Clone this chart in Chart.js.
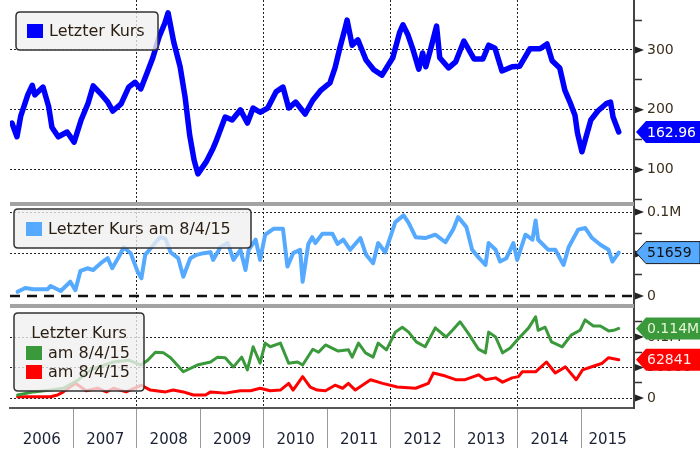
<!DOCTYPE html>
<html>
<head>
<meta charset="utf-8">
<title>Letzter Kurs</title>
<script src="https://cdn.jsdelivr.net/npm/chart.js@4.4.1/dist/chart.umd.min.js"></script>
<style>
  html, body { margin: 0; padding: 0; background: #fff; }
  #chart { display: block; }
</style>
</head>
<body>
<canvas id="chart" width="700" height="450"></canvas>
<script>
// Jahresbeschriftung der X-Achse
const jahre = ['2006', '2007', '2008', '2009', '2010', '2011', '2012', '2013', '2014', '2015'];

// Oberes Feld: Letzter Kurs
const kursJahre = [2006.03, 2006.11, 2006.17, 2006.28, 2006.35, 2006.39, 2006.52, 2006.61, 2006.66, 2006.76,
  2006.90, 2007.01, 2007.12, 2007.23, 2007.31, 2007.42, 2007.54, 2007.62, 2007.75, 2007.87,
  2007.97, 2008.06, 2008.16, 2008.25, 2008.35, 2008.44, 2008.49, 2008.58, 2008.68, 2008.76,
  2008.83, 2008.90, 2008.96, 2009.09, 2009.20, 2009.24, 2009.39, 2009.50, 2009.63, 2009.74,
  2009.83, 2009.94, 2010.06, 2010.19, 2010.30, 2010.39, 2010.50, 2010.65, 2010.77, 2010.90,
  2011.04, 2011.12, 2011.20, 2011.28, 2011.31, 2011.39, 2011.48, 2011.61, 2011.73, 2011.86,
  2012.03, 2012.14, 2012.19, 2012.27, 2012.35, 2012.44, 2012.50, 2012.55, 2012.63, 2012.72,
  2012.77, 2012.91, 2013.02, 2013.15, 2013.31, 2013.45, 2013.54, 2013.64, 2013.75, 2013.91,
  2014.03, 2014.19, 2014.35, 2014.46, 2014.54, 2014.66, 2014.74, 2014.82, 2014.90, 2014.94,
  2015.01, 2015.07, 2015.15, 2015.26, 2015.40, 2015.46, 2015.50, 2015.59];
const kursWerte = [178, 155, 190, 225, 241, 225, 238, 205, 171, 155,
  163, 146, 183, 211, 240, 228, 213, 198, 210, 238,
  246, 235, 262, 287, 322, 345, 362, 313, 272, 220,
  158, 116, 93, 113, 136, 146, 188, 183, 200, 178,
  203, 196, 203, 230, 238, 203, 213, 193, 216, 233,
  245, 270, 305, 337, 350, 308, 317, 283, 267, 258,
  287, 330, 342, 325, 300, 268, 295, 272, 303, 340,
  287, 270, 280, 315, 285, 285, 308, 303, 265, 272,
  273, 302, 302, 310, 282, 270, 233, 213, 191, 161,
  130, 153, 183, 198, 211, 213, 188, 162.96];

// Mittleres Feld: Letzter Kurs am 8/4/15
const mitteJahre = [2006.12, 2006.24, 2006.37, 2006.59, 2006.64, 2006.80, 2006.95, 2007.03, 2007.11, 2007.22,
  2007.31, 2007.43, 2007.54, 2007.61, 2007.71, 2007.79, 2007.90, 2008.01, 2008.07, 2008.13,
  2008.23, 2008.32, 2008.37, 2008.45, 2008.53, 2008.65, 2008.73, 2008.84, 2008.94, 2009.05,
  2009.16, 2009.20, 2009.27, 2009.31, 2009.43, 2009.52, 2009.63, 2009.71, 2009.76, 2009.87,
  2009.94, 2010.02, 2010.15, 2010.30, 2010.37, 2010.46, 2010.57, 2010.61, 2010.70, 2010.76,
  2010.81, 2010.92, 2011.08, 2011.16, 2011.25, 2011.36, 2011.52, 2011.61, 2011.72, 2011.80,
  2011.91, 2012.07, 2012.20, 2012.28, 2012.39, 2012.54, 2012.70, 2012.86, 2012.98, 2013.06,
  2013.19, 2013.28, 2013.38, 2013.49, 2013.54, 2013.65, 2013.72, 2013.82, 2013.93, 2013.99,
  2014.12, 2014.23, 2014.28, 2014.32, 2014.48, 2014.59, 2014.72, 2014.80, 2014.95, 2015.06,
  2015.17, 2015.30, 2015.43, 2015.49, 2015.59];
const mitteWerte = [5000, 9500, 8000, 8000, 12000, 6000, 17000, 7000, 30000, 33000,
  31000, 39000, 45000, 33000, 46000, 58000, 51000, 29000, 21000, 49000,
  58000, 66000, 70000, 68000, 52000, 45000, 23000, 45000, 49000, 51000,
  52000, 43000, 52000, 58000, 63000, 43000, 55000, 31000, 55000, 67000,
  43000, 73000, 80000, 80000, 35000, 51000, 55000, 17000, 62000, 70000,
  63000, 74000, 74000, 62000, 67000, 55000, 69000, 49000, 39000, 63000,
  52000, 88000, 96000, 87000, 70000, 69000, 73000, 64000, 79000, 94000,
  82000, 55000, 46000, 37000, 63000, 55000, 41000, 45000, 63000, 43000,
  73000, 67000, 90000, 67000, 55000, 55000, 37000, 58000, 79000, 81000,
  69000, 61000, 55000, 41000, 51659];

// Unteres Feld: zwei Reihen am 8/4/15 (grün und rot)
const gruenJahre = [2006.12, 2006.37, 2006.64, 2006.84, 2007.08, 2007.27, 2007.43, 2007.63, 2007.87, 2008.06,
  2008.17, 2008.29, 2008.42, 2008.53, 2008.73, 2008.95, 2009.16, 2009.27, 2009.39, 2009.52,
  2009.65, 2009.74, 2009.83, 2009.94, 2010.02, 2010.10, 2010.26, 2010.39, 2010.53, 2010.61,
  2010.77, 2010.86, 2010.97, 2011.17, 2011.33, 2011.39, 2011.49, 2011.60, 2011.72, 2011.80,
  2011.93, 2012.07, 2012.18, 2012.28, 2012.40, 2012.54, 2012.70, 2012.87, 2012.97, 2013.09,
  2013.22, 2013.38, 2013.49, 2013.54, 2013.65, 2013.76, 2013.88, 2013.99, 2014.17, 2014.28,
  2014.32, 2014.43, 2014.53, 2014.70, 2014.84, 2014.98, 2015.06, 2015.19, 2015.30, 2015.43,
  2015.51, 2015.59];
const gruenWerte = [5000, 10000, 13000, 16000, 30000, 46000, 52000, 59000, 62000, 54000,
  62000, 75000, 74000, 66000, 43000, 54000, 59000, 67000, 66000, 51000,
  67000, 46000, 84000, 57000, 90000, 84000, 90000, 57000, 59000, 54000,
  80000, 75000, 87000, 77000, 79000, 67000, 90000, 74000, 67000, 90000,
  79000, 108000, 116000, 108000, 92000, 84000, 115000, 100000, 111000, 125000,
  106000, 80000, 74000, 108000, 100000, 74000, 82000, 95000, 115000, 133000,
  111000, 116000, 92000, 84000, 103000, 111000, 128000, 118000, 118000, 110000,
  111000, 114000];

const rotJahre = [2006.12, 2006.64, 2006.75, 2006.84, 2007.03, 2007.20, 2007.38, 2007.52, 2007.63, 2007.83,
  2008.07, 2008.21, 2008.45, 2008.57, 2008.73, 2008.89, 2009.08, 2009.16, 2009.39, 2009.63,
  2009.79, 2009.94, 2010.10, 2010.26, 2010.39, 2010.46, 2010.61, 2010.73, 2010.84, 2010.97,
  2011.12, 2011.24, 2011.33, 2011.44, 2011.68, 2011.87, 2012.10, 2012.39, 2012.59, 2012.67,
  2012.86, 2013.02, 2013.17, 2013.38, 2013.49, 2013.65, 2013.76, 2013.91, 2014.01, 2014.07,
  2014.28, 2014.45, 2014.59, 2014.75, 2014.92, 2015.02, 2015.19, 2015.33, 2015.43, 2015.59];
const rotWerte = [2000, 2000, 5000, 10000, 24000, 12000, 16000, 10000, 16000, 10000,
  21000, 13000, 10000, 13000, 10000, 5000, 5000, 10000, 8000, 12000,
  12000, 16000, 12000, 13000, 24000, 13000, 35000, 18000, 13000, 12000,
  21000, 16000, 24000, 13000, 30000, 24000, 18000, 16000, 24000, 41000,
  36000, 30000, 30000, 38000, 30000, 33000, 26000, 33000, 35000, 43000,
  43000, 59000, 41000, 51000, 30000, 46000, 52000, 57000, 66000, 62841];

// Achsenteilung der drei Felder
const kursTicks = [50, 100, 150, 200, 250, 300, 350];
const kursHaupt = [100, 200, 300];
const mitteTicks = [0, 25000, 50000, 75000, 100000];
const mitteHaupt = [0, 50000, 100000];
const untenTicks = [0, 25000, 50000, 75000, 100000, 125000];
const untenHaupt = [0, 50000, 100000];

const xMin = 2006;
const xMax = 2015.83;
const leer = 'rgba(0,0,0,0)';
const schrift = '"DejaVu Sans", Verdana, sans-serif';

function punkte(jahreListe, werte) {
  return jahreListe.map((j, i) => ({ x: j, y: werte[i] }));
}

function zahlText(v) {
  if (v === 0) return '0';
  if (v >= 100000) return (v / 1000000).toFixed(1).replace(/\.0$/, '') + 'M';
  return String(v);
}

// Rechte Achse eines Feldes
function yAchse(min, max, ticks, haupt, gewicht, gitterOhne) {
  return {
    type: 'linear',
    position: 'right',
    stack: 'felder',
    stackWeight: gewicht,
    min: min,
    max: max,
    afterBuildTicks: (a) => { a.ticks = ticks.map(v => ({ value: v })); },
    afterFit: (a) => {
      a.width = 66;
      a.paddingTop = 0;
      a.paddingBottom = 0;
    },
    border: { display: true, color: '#444', width: 2, dash: [2, 2] },
    grid: {
      color: (c) => {
        const v = c.tick ? c.tick.value : null;
        return haupt.includes(v) && v !== gitterOhne ? '#222' : leer;
      },
      lineWidth: 1,
      tickLength: 8,
      tickWidth: 1.5,
      tickColor: (c) => (c.tick && haupt.includes(c.tick.value)) ? leer : '#333',
      tickBorderDash: []
    },
    ticks: {
      autoSkip: false,
      padding: 5,
      color: '#3d2f1e',
      font: { family: schrift, size: 14 },
      callback: (v) => haupt.includes(v) ? zahlText(v) : ''
    }
  };
}

function rundBox(ctx, x, y, w, h, r) {
  ctx.beginPath();
  ctx.moveTo(x + r, y);
  ctx.lineTo(x + w - r, y);
  ctx.quadraticCurveTo(x + w, y, x + w, y + r);
  ctx.lineTo(x + w, y + h - r);
  ctx.quadraticCurveTo(x + w, y + h, x + w - r, y + h);
  ctx.lineTo(x + r, y + h);
  ctx.quadraticCurveTo(x, y + h, x, y + h - r);
  ctx.lineTo(x, y + r);
  ctx.quadraticCurveTo(x, y, x + r, y);
  ctx.closePath();
  ctx.fillStyle = 'rgba(240,240,240,0.78)';
  ctx.fill();
  ctx.lineWidth = 1.5;
  ctx.strokeStyle = '#333';
  ctx.stroke();
}

function eintrag(ctx, x, y, farbe, text) {
  ctx.fillStyle = farbe;
  ctx.fillRect(x, y - 7, 16, 14);
  ctx.fillStyle = '#2a1e12';
  ctx.fillText(text, x + 22, y + 1);
}

function fahne(ctx, y, text, fuellung, textFarbe, rand) {
  const r = ctx.canvas.width;
  ctx.beginPath();
  ctx.moveTo(636, y);
  ctx.lineTo(646, y - 11);
  ctx.lineTo(r, y - 11);
  ctx.lineTo(r, y + 11);
  ctx.lineTo(646, y + 11);
  ctx.closePath();
  ctx.fillStyle = fuellung;
  ctx.fill();
  if (rand) {
    ctx.lineWidth = 1;
    ctx.strokeStyle = rand;
    ctx.stroke();
  }
  ctx.fillStyle = textFarbe;
  ctx.font = '14px ' + schrift;
  ctx.textAlign = 'left';
  ctx.textBaseline = 'middle';
  ctx.fillText(text, 647, y + 1);
}

// Deko: Nulllinie, Trennbalken, Legenden, Wertfahnen
const dekoPlugin = {
  id: 'deko',
  beforeDatasetsDraw(chart) {
    const { ctx, chartArea, scales } = chart;
    const y0 = scales.yMitte.getPixelForValue(0);
    ctx.save();
    ctx.strokeStyle = '#111';
    ctx.lineWidth = 2.5;
    ctx.setLineDash([10, 7]);
    ctx.beginPath();
    ctx.moveTo(chartArea.left, y0);
    ctx.lineTo(chartArea.right, y0);
    ctx.stroke();
    ctx.restore();
  },
  afterDraw(chart) {
    const { ctx, chartArea, scales } = chart;
    ctx.save();

    // graue Trennbalken zwischen den Feldern
    ctx.fillStyle = '#a3a3a3';
    [scales.yKurs.bottom, scales.yMitte.bottom].forEach(y => {
      ctx.fillRect(chartArea.left, y - 2, chartArea.right - chartArea.left, 4);
    });

    // kleine Pfeile an den Hauptstrichen
    ctx.fillStyle = '#222';
    [[scales.yKurs, kursHaupt], [scales.yMitte, mitteHaupt], [scales.yUnten, untenHaupt]].forEach(([s, haupt]) => {
      haupt.forEach(v => {
        const y = s.getPixelForValue(v);
        ctx.beginPath();
        ctx.moveTo(chartArea.right + 1, y - 3.5);
        ctx.lineTo(chartArea.right + 10, y);
        ctx.lineTo(chartArea.right + 1, y + 3.5);
        ctx.closePath();
        ctx.fill();
      });
    });

    // Legenden
    ctx.font = '16px ' + schrift;
    ctx.textBaseline = 'middle';
    ctx.textAlign = 'left';
    rundBox(ctx, 16, 12, 142, 38, 4);
    eintrag(ctx, 27, 31, '#0000ff', 'Letzter Kurs');
    rundBox(ctx, 14, 209, 237, 39, 4);
    eintrag(ctx, 26, 229, '#55aaff', 'Letzter Kurs am 8/4/15');
    rundBox(ctx, 14, 313, 130, 78, 4);
    ctx.fillStyle = '#2a1e12';
    ctx.textAlign = 'center';
    ctx.fillText('Letzter Kurs', 79, 334);
    ctx.textAlign = 'left';
    eintrag(ctx, 26, 353, '#3a993a', 'am 8/4/15');
    eintrag(ctx, 26, 372, '#ff0000', 'am 8/4/15');

    // Wertfahnen am rechten Rand
    const kursLetzt = kursWerte[kursWerte.length - 1];
    const mitteLetzt = mitteWerte[mitteWerte.length - 1];
    const gruenLetzt = gruenWerte[gruenWerte.length - 1];
    const rotLetzt = rotWerte[rotWerte.length - 1];
    fahne(ctx, scales.yKurs.getPixelForValue(kursLetzt), kursLetzt.toFixed(2), '#0000ff', '#ffffff');
    fahne(ctx, scales.yMitte.getPixelForValue(mitteLetzt), String(mitteLetzt), '#55aaff', '#111111', '#1a1a1a');
    fahne(ctx, scales.yUnten.getPixelForValue(gruenLetzt), (gruenLetzt / 1000000).toFixed(3) + 'M', '#3a993a', '#e6f5d8');
    fahne(ctx, scales.yUnten.getPixelForValue(rotLetzt), String(rotLetzt), '#ff0000', '#ffeaea');

    ctx.restore();
  }
};

const ctx = document.getElementById('chart').getContext('2d');

const diagramm = new Chart(ctx, {
  type: 'line',
  data: {
    datasets: [
      { label: 'Letzter Kurs', data: punkte(kursJahre, kursWerte), yAxisID: 'yKurs',
        borderColor: '#0000ff', borderWidth: 5.5 },
      { label: 'Letzter Kurs am 8/4/15', data: punkte(mitteJahre, mitteWerte), yAxisID: 'yMitte',
        borderColor: '#55aaff', borderWidth: 4 },
      { label: 'am 8/4/15', data: punkte(gruenJahre, gruenWerte), yAxisID: 'yUnten',
        borderColor: '#3a993a', borderWidth: 3 },
      { label: 'am 8/4/15', data: punkte(rotJahre, rotWerte), yAxisID: 'yUnten',
        borderColor: '#ff0000', borderWidth: 3 }
    ]
  },
  options: {
    responsive: false,
    animation: false,
    layout: { padding: { left: 10, top: 0, right: 0, bottom: 0 } },
    elements: {
      point: { radius: 0 },
      line: { tension: 0, borderJoinStyle: 'round', borderCapStyle: 'round', fill: false }
    },
    plugins: { legend: { display: false }, tooltip: { enabled: false } },
    scales: {
      x: {
        type: 'linear',
        position: 'bottom',
        min: xMin,
        max: xMax,
        afterBuildTicks: (a) => {
          const t = [];
          jahre.forEach(j => {
            const start = Number(j);
            const ende = Math.min(start + 1, xMax);
            if (start > xMin) t.push({ value: start });
            t.push({ value: (start + ende) / 2 });
          });
          a.ticks = t;
        },
        afterFit: (a) => {
          a.height = 42;
          a.paddingLeft = 0;
          a.paddingRight = 0;
        },
        border: { display: true, color: '#555', width: 2, dash: [2, 2] },
        grid: {
          color: (c) => {
            const v = c.tick ? c.tick.value : null;
            return (Number.isInteger(v) && v % 2 === 0) ? '#222' : leer;
          },
          lineWidth: 1,
          tickLength: 40,
          tickWidth: 1,
          tickColor: (c) => (c.tick && Number.isInteger(c.tick.value)) ? '#9a9a9a' : leer,
          tickBorderDash: []
        },
        ticks: {
          autoSkip: false,
          maxRotation: 0,
          minRotation: 0,
          padding: -17,
          color: '#1c2235',
          font: { family: schrift, size: 15 },
          callback: (v) => Number.isInteger(v) ? '' : String(Math.floor(v))
        }
      },
      yKurs: yAchse(42.7, 383.5, kursTicks, kursHaupt, 2, null),
      yMitte: yAchse(-11905, 109524, mitteTicks, mitteHaupt, 1, 0),
      yUnten: yAchse(-16393, 150820, untenTicks, untenHaupt, 1, null)
    }
  },
  plugins: [dekoPlugin]
});
</script>
</body>
</html>
